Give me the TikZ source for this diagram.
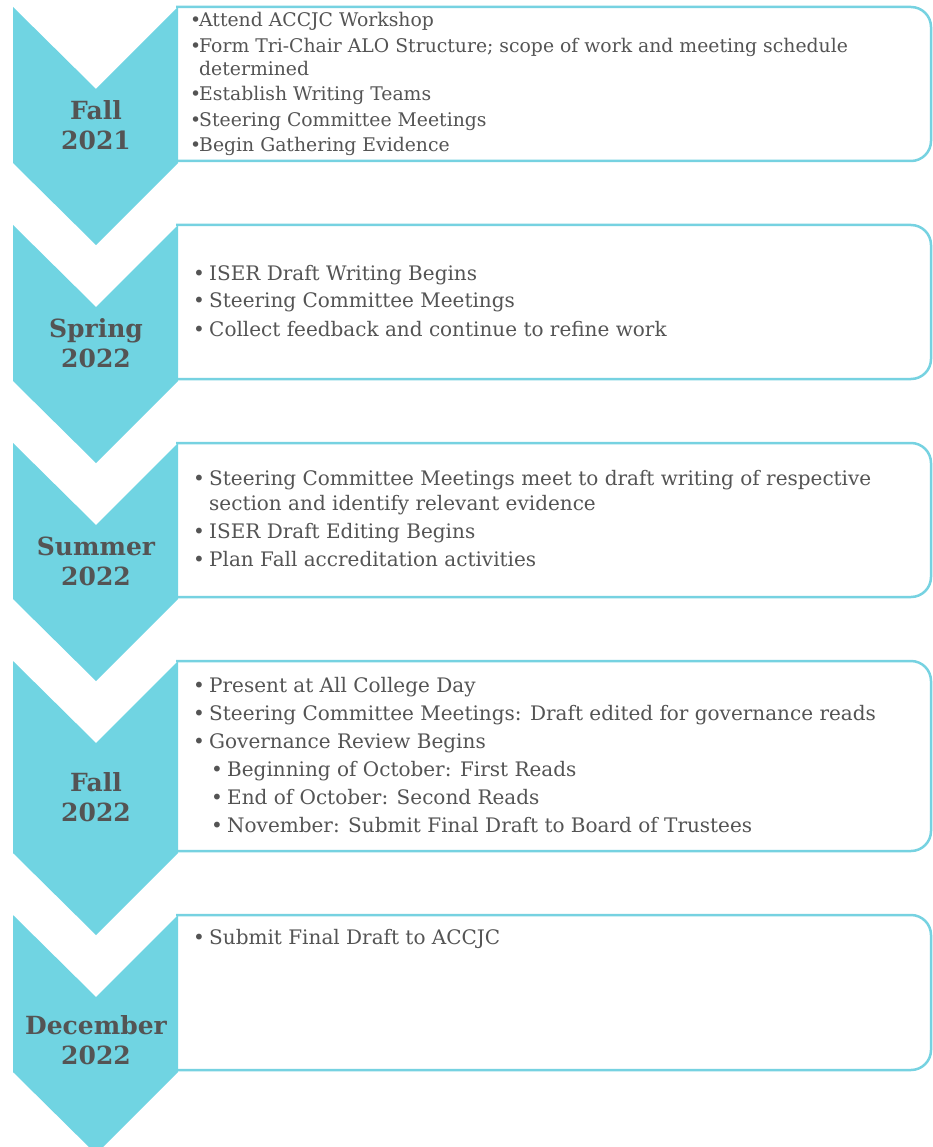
\documentclass[tikz,border=0pt]{standalone}
\usepackage{fontspec}
\setmainfont{DejaVu Serif}

\definecolor{chevblue}{RGB}{112,212,226}
\definecolor{boxline}{RGB}{118,210,225}
\definecolor{txtgray}{RGB}{84,84,84}

% bullet lines
\newcommand{\bitem}[2][16pt]{\makebox[#1][l]{\textbullet}#2}
\newcommand{\bcont}[2][16pt]{\hspace*{#1}#2}
\newcommand{\bsub}[1]{\hspace*{18pt}\makebox[16pt][l]{\textbullet}#1}

\begin{document}
\begin{tikzpicture}[x=1pt, y=-1pt,
	chevron/.style = {fill = chevblue},
	stagebox/.style = {draw = boxline, line width = 2.5pt, fill = white},
	season/.style = {text = txtgray, align = center, inner sep = 0,
		font = \fontsize{25}{30}\selectfont\bfseries},
	items/.style = {text = txtgray, inner sep = 0, anchor = base west,
		font = \fontsize{20}{28}\selectfont}]

	\useasboundingbox (0, 0) rectangle (932, 1147);

	% Boxes, chevrons and season labels

	\foreach \top/\bot/\shift/\name/\season in {7/161/0/fall21/{Fall\\2021}, 225/379/0/spring22/{Spring\\2022},
		443/597/0/summer22/{Summer\\2022}, 661/851/0/fall22/{Fall\\2022}, 915/1070/7/dec22/{December\\2022}}
	{
		\draw [stagebox] (176, \top) [rounded corners = 20] -- (931, \top) -- (931, \bot) -- (176, \bot);
		\fill [chevron] (13, \top) -- (96, \top + 82) -- (178, \top) -- (178, \bot + 2)
			-- (96, \bot + 84) -- (13, \bot + 2) -- cycle;
		\node [season] (\name) at (96, {(\top + \bot) / 2 + 41 + \shift}) {\season};
	}

	% Activities

	\node [items, font = \fontsize{18.8}{25.3}\selectfont] (fall21list) at (190, 27) {\begin{tabular}[t]{@{}l@{}}
		\bitem[9pt]{Attend ACCJC Workshop}\\
		\bitem[9pt]{Form Tri-Chair ALO Structure; scope of work and meeting schedule}\\[-2pt]
		\bcont[9pt]{determined}\\
		\bitem[9pt]{Establish Writing Teams}\\
		\bitem[9pt]{Steering Committee Meetings}\\
		\bitem[9pt]{Begin Gathering Evidence}
	\end{tabular}};

	\node [items] (spring22list) at (193, 280) {\begin{tabular}[t]{@{}l@{}}
		\bitem{ISER Draft Writing Begins}\\
		\bitem{Steering Committee Meetings}\\
		\bitem{Collect feedback and continue to refine work}
	\end{tabular}};

	\node [items] (summer22list) at (193, 485) {\begin{tabular}[t]{@{}l@{}}
		\bitem{Steering Committee Meetings meet to draft writing of respective}\\[-3pt]
		\bcont{section and identify relevant evidence}\\
		\bitem{ISER Draft Editing Begins}\\
		\bitem{Plan Fall accreditation activities}
	\end{tabular}};

	\node [items] (fall22list) at (193, 692) {\begin{tabular}[t]{@{}l@{}}
		\bitem{Present at All College Day}\\
		\bitem{Steering Committee Meetings: Draft edited for governance reads}\\
		\bitem{Governance Review Begins}\\
		\bsub{Beginning of October: First Reads}\\
		\bsub{End of October: Second Reads}\\
		\bsub{November: Submit Final Draft to Board of Trustees}
	\end{tabular}};

	\node [items] (dec22list) at (193, 944) {\begin{tabular}[t]{@{}l@{}}
		\bitem{Submit Final Draft to ACCJC}
	\end{tabular}};

\end{tikzpicture}
\end{document}
